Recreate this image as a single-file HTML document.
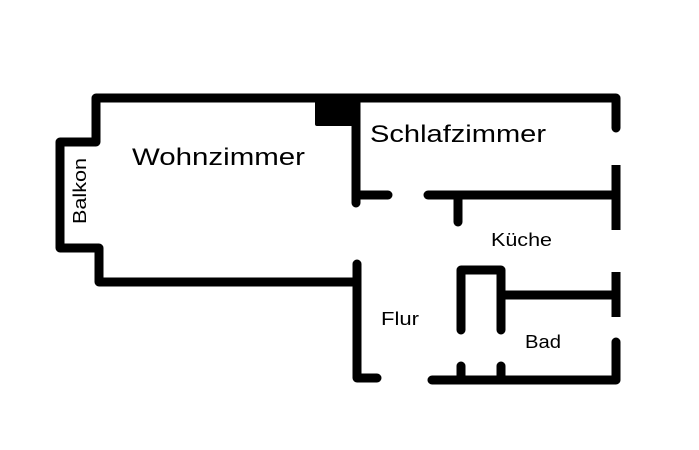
<!DOCTYPE html>
<html><head><meta charset="utf-8"><style>html,body{margin:0;padding:0;background:#fff}svg{display:block}</style></head>
<body>
<svg width="699" height="450" viewBox="0 0 699 450" xmlns="http://www.w3.org/2000/svg">
<g fill="none" stroke="#000" stroke-width="9" stroke-linecap="round" stroke-linejoin="round">
<polyline points="616,128 616,98 96,98 96,142 60,142 60,248 99,248 99,282 357,282"/>
<line x1="616" y1="165" x2="616" y2="230" stroke-linecap="butt"/>
<line x1="616" y1="272" x2="616" y2="317" stroke-linecap="butt"/>
<polyline points="616,342 616,380 432,380"/>
<polyline points="356,203 356,195 388,195"/>
<line x1="428" y1="195" x2="616" y2="195"/>
<line x1="458" y1="195" x2="458" y2="222"/>
<polyline points="357,264 357,378 377,378"/>
<polyline points="461,330 461,270 501,270 501,330"/>
<line x1="501" y1="295" x2="616" y2="295"/>
<line x1="461" y1="366" x2="461" y2="380"/>
<line x1="501" y1="366" x2="501" y2="380"/>
<line x1="356" y1="98" x2="356" y2="200"/>
</g>
<rect x="315" y="98" width="42" height="28" fill="#000" rx="2"/>
<g font-family="Liberation Sans, DejaVu Sans, sans-serif" fill="#000">
<text x="132" y="165" font-size="24" textLength="173" lengthAdjust="spacingAndGlyphs">Wohnzimmer</text>
<text x="370" y="142" font-size="24" textLength="176" lengthAdjust="spacingAndGlyphs">Schlafzimmer</text>
<text x="491" y="246" font-size="18" textLength="61" lengthAdjust="spacingAndGlyphs">Küche</text>
<text x="381" y="325" font-size="18" textLength="38" lengthAdjust="spacingAndGlyphs">Flur</text>
<text x="525" y="348" font-size="18" textLength="36" lengthAdjust="spacingAndGlyphs">Bad</text>
<text transform="translate(86,224) rotate(-90)" font-size="18" textLength="66" lengthAdjust="spacingAndGlyphs">Balkon</text>
</g>
</svg>
</body></html>
